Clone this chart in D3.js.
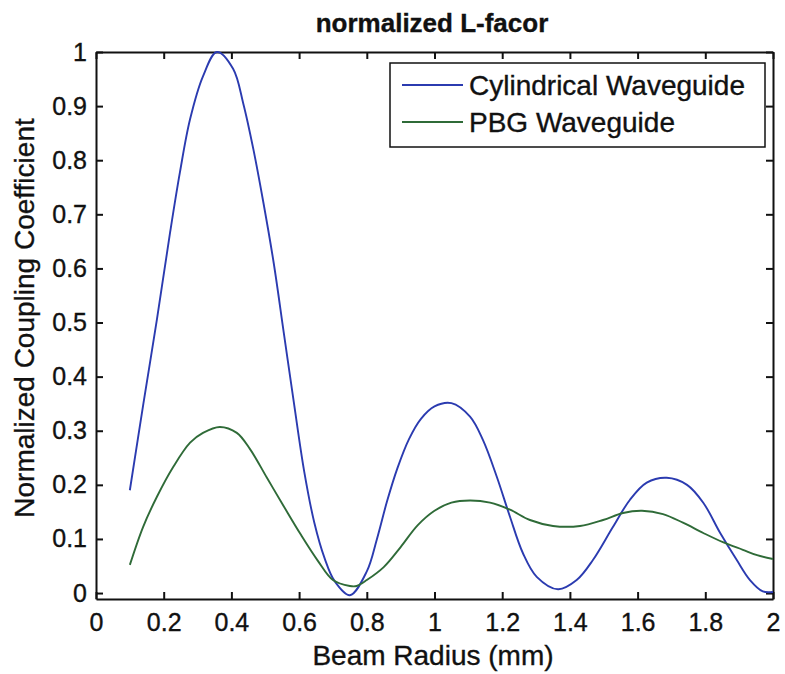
<!DOCTYPE html>
<html lang="en">
<head>
    <meta charset="UTF-8">
    <title>normalized L-facor</title>
    <script src="https://cdn.jsdelivr.net/npm/d3@7"></script>
    <style>
        body { margin: 0; background: #fff; }
        text { font-family: "Liberation Sans", Arial, sans-serif; fill: #111; stroke: #111; stroke-width: 0.35; }
    </style>
</head>
<body>
<script>
    // curve data
    var cylX = [0.10, 0.14, 0.18, 0.219, 0.248, 0.278, 0.316, 0.357, 0.405, 0.435, 0.465, 0.495, 0.525, 0.555, 0.585, 0.615, 0.645, 0.675, 0.705, 0.75, 0.80, 0.83, 0.86, 0.89, 0.925, 0.96, 1.0, 1.05, 1.105, 1.143, 1.184, 1.223, 1.261, 1.302, 1.365, 1.42, 1.468, 1.527, 1.577, 1.627, 1.686, 1.746, 1.794, 1.844, 1.893, 1.932, 1.97, 2.0];
    var cylY = [0.19, 0.35, 0.506, 0.667, 0.778, 0.876, 0.955, 1.0, 0.969, 0.905, 0.82, 0.72, 0.61, 0.48, 0.35, 0.225, 0.13, 0.065, 0.022, -0.004, 0.04, 0.10, 0.17, 0.23, 0.285, 0.322, 0.345, 0.351, 0.326, 0.283, 0.215, 0.141, 0.074, 0.03, 0.007, 0.024, 0.061, 0.122, 0.172, 0.204, 0.213, 0.2, 0.167, 0.111, 0.061, 0.024, 0.003, 0.002];

    var pbgX = [0.10, 0.139, 0.18, 0.228, 0.278, 0.316, 0.366, 0.416, 0.455, 0.505, 0.555, 0.605, 0.655, 0.70, 0.75, 0.77, 0.80, 0.85, 0.90, 0.95, 1.0, 1.05, 1.105, 1.164, 1.223, 1.282, 1.35, 1.43, 1.498, 1.557, 1.613, 1.675, 1.734, 1.794, 1.852, 1.911, 1.953, 2.0];
    var pbgY = [0.052, 0.122, 0.178, 0.233, 0.278, 0.296, 0.307, 0.296, 0.266, 0.213, 0.16, 0.108, 0.06, 0.024, 0.013, 0.013, 0.024, 0.048, 0.085, 0.125, 0.152, 0.167, 0.171, 0.167, 0.154, 0.135, 0.124, 0.124, 0.135, 0.148, 0.152, 0.146, 0.13, 0.111, 0.094, 0.08, 0.07, 0.063];

    var xTicks = [0, 0.2, 0.4, 0.6, 0.8, 1, 1.2, 1.4, 1.6, 1.8, 2];
    var yTicks = [0, 0.1, 0.2, 0.3, 0.4, 0.5, 0.6, 0.7, 0.8, 0.9, 1];
    var seriesNames = ["Cylindrical Waveguide", "PBG Waveguide"];
    var seriesColors = ["#2b3bb0", "#2f6b38"];

    var width = 785, height = 674;
    var plot = {left: 96, right: 773, top: 52, bottom: 599};

    var svg = d3.select("body").append("svg")
        .attr("width", width)
        .attr("height", height);

    var xScale = d3.scaleLinear().domain([0, 2]).range([plot.left, plot.right]);
    var yScale = d3.scaleLinear().domain([-0.011, 1]).range([plot.bottom, plot.top]);

    // axes, ticks pointing inwards like matlab
    var fmt = function (d) { return d3.format("")(d); };
    svg.append("g")
        .attr("transform", "translate(0," + plot.bottom + ")")
        .call(d3.axisBottom(xScale).tickValues(xTicks).tickFormat(fmt).tickSizeInner(-7).tickSizeOuter(0).tickPadding(14))
        .call(function (g) {
            g.selectAll("text").attr("font-size", 25);
        });
    svg.append("g")
        .attr("transform", "translate(0," + plot.top + ")")
        .call(d3.axisTop(xScale).tickValues(xTicks).tickFormat("").tickSizeInner(-7).tickSizeOuter(0));
    svg.append("g")
        .attr("transform", "translate(" + plot.left + ",0)")
        .call(d3.axisLeft(yScale).tickValues(yTicks).tickFormat(fmt).tickSizeInner(-7).tickSizeOuter(0).tickPadding(9))
        .call(function (g) {
            g.selectAll("text").attr("font-size", 25);
        });
    svg.append("g")
        .attr("transform", "translate(" + plot.right + ",0)")
        .call(d3.axisRight(yScale).tickValues(yTicks).tickFormat("").tickSizeInner(-7).tickSizeOuter(0));

    svg.selectAll(".domain").attr("stroke", "#111").attr("stroke-width", 2);
    svg.selectAll(".tick line").attr("stroke", "#111").attr("stroke-width", 2);

    // curves
    var line = d3.line()
        .x(function (d) { return xScale(d[0]); })
        .y(function (d) { return yScale(d[1]); })
        .curve(d3.curveCatmullRom.alpha(0.5));

    var series = [d3.zip(cylX, cylY), d3.zip(pbgX, pbgY)];
    series.forEach(function (s, i) {
        svg.append("path")
            .datum(s)
            .attr("d", line)
            .attr("fill", "none")
            .attr("stroke", seriesColors[i])
            .attr("stroke-width", 1.9);
    });

    // legend
    var lg = svg.append("g");
    lg.append("rect")
        .attr("x", 390).attr("y", 63)
        .attr("width", 375).attr("height", 84)
        .attr("fill", "#fff")
        .attr("stroke", "#111").attr("stroke-width", 1.5);
    seriesNames.forEach(function (name, i) {
        var y = 85 + i * 37;
        lg.append("line")
            .attr("x1", 402).attr("x2", 463)
            .attr("y1", y).attr("y2", y)
            .attr("stroke", seriesColors[i]).attr("stroke-width", 1.8);
        lg.append("text")
            .attr("x", 469).attr("y", y + 10)
            .attr("font-size", 28)
            .text(name);
    });

    // titles
    svg.append("text")
        .attr("x", 432).attr("y", 32)
        .attr("text-anchor", "middle")
        .attr("font-size", 26).attr("font-weight", "bold")
        .text("normalized L-facor");
    svg.append("text")
        .attr("x", 433).attr("y", 665)
        .attr("text-anchor", "middle")
        .attr("font-size", 28)
        .text("Beam Radius (mm)");
    svg.append("text")
        .attr("transform", "translate(34,318) rotate(-90)")
        .attr("text-anchor", "middle")
        .attr("font-size", 28)
        .text("Normalized Coupling Coefficient");
</script>
</body>
</html>
